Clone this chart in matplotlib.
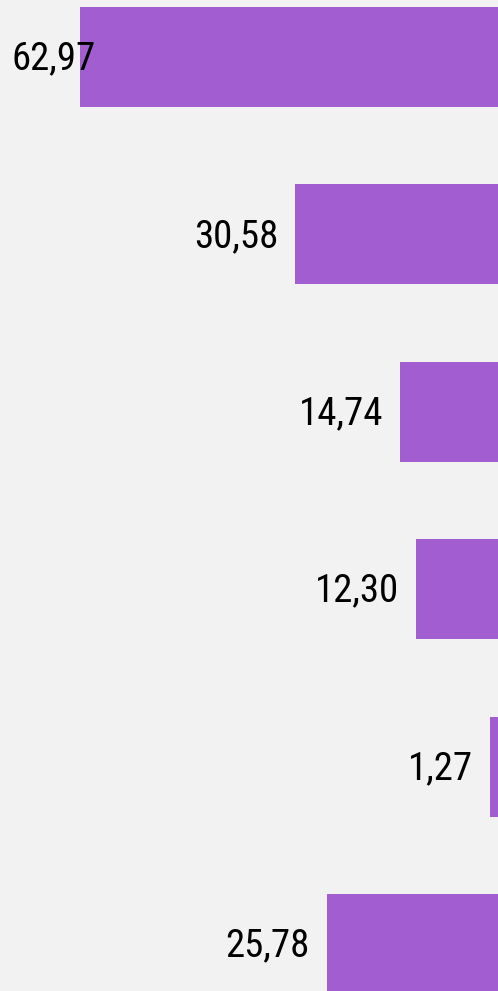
import matplotlib
matplotlib.use('Agg')
import matplotlib.pyplot as plt

# Values (bars grow right to left)
values = [62.97, 30.58, 14.74, 12.30, 1.27, 25.78]
labels = ['62,97', '30,58', '14,74', '12,30', '1,27', '25,78']
positions = list(range(len(values)))

bar_color = '#a25dd0'
bg_color = '#f2f2f2'
font = ['Roboto Condensed', 'DejaVu Sans']

fig = plt.figure(figsize=(4.98, 9.91), dpi=100)
fig.patch.set_facecolor(bg_color)
ax = fig.add_axes([0, 0, 1, 1])
ax.set_facecolor(bg_color)

ax.barh(positions, values, height=0.564, color=bar_color)

ax.set_xlim(75.02, 0)
ax.set_ylim(5.265, -0.321)
ax.axis('off')

fig.canvas.draw()
renderer = fig.canvas.get_renderer()
for pos, val, lab in zip(positions, values, labels):
    t = ax.annotate(lab, xy=(val, pos), xytext=(-12.2, -1.5), textcoords='offset points',
                    ha='right', va='center', fontsize=28, family=font, color='black')
    bb = t.get_window_extent(renderer)
    if bb.x0 < 12:
        # keep the label inside the canvas, as in the original
        t.remove()
        ax.annotate(lab, xy=(0, pos), xycoords=('axes fraction', 'data'),
                    xytext=(12 * 72 / 100, -1.5), textcoords='offset points',
                    ha='left', va='center', fontsize=28, family=font, color='black')

fig.savefig('out.png', dpi=100, facecolor=bg_color)
